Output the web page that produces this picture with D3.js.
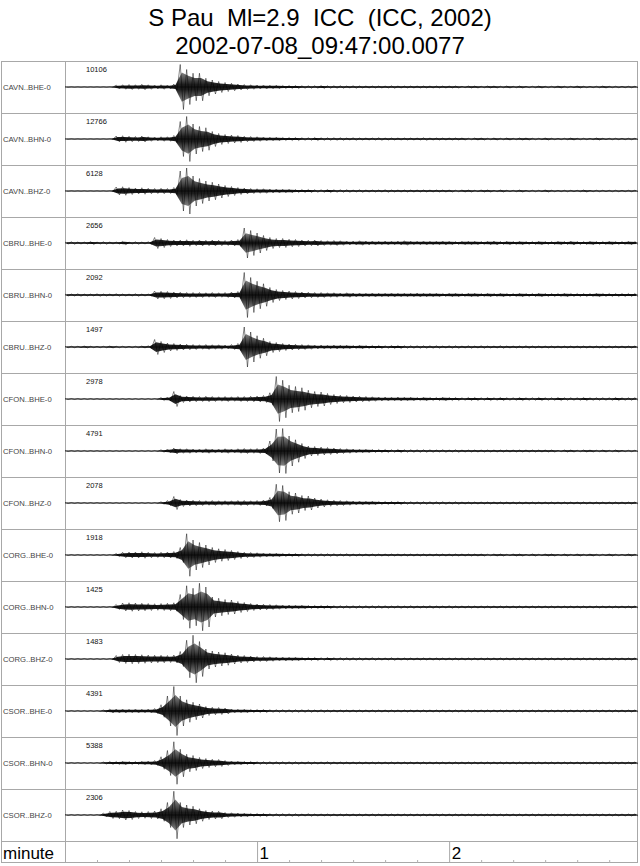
<!DOCTYPE html>
<html><head><meta charset="utf-8">
<script src="https://cdn.jsdelivr.net/npm/d3@7"></script>
<style>body{margin:0;background:#fff}svg{display:block}text{font-family:"Liberation Sans",Arial,Helvetica,sans-serif}</style>
</head><body><svg id="chart" width="640" height="866"></svg>
<script>
// ---------- data ----------
const titleLines = ["S Pau  Ml=2.9  ICC  (ICC, 2002)", "2002-07-08_09:47:00.0077"];
const channels = ["CAVN..BHE-0","CAVN..BHN-0","CAVN..BHZ-0","CBRU..BHE-0","CBRU..BHN-0","CBRU..BHZ-0",
  "CFON..BHE-0","CFON..BHN-0","CFON..BHZ-0","CORG..BHE-0","CORG..BHN-0","CORG..BHZ-0",
  "CSOR..BHE-0","CSOR..BHN-0","CSOR..BHZ-0"];
const peakCounts = [10106,12766,6128,2656,2092,1497,2978,4791,2078,1918,1425,1483,4391,5388,2306];
const sampleStepSec = 2;          // envelope read every 2 s, % of each trace's peak count
const minuteTicks = [1, 2];
const minorTickSec = [10,20,30,40,50,70,80,90,100,110,130,140,150,160,170];

const CAVN_BHE = [1,1,1,1,1,1,1,1, 8,9,10,9,11,9,8,9,8,12, 90,70,55,55,35,28,22,18,15,12, 10,9,8,8,7,7,6,6,6,5, 5,5,6,5,5,5,4,5,4,4, 4,4,4,5,4,4,4,4,4,4, 4,4,4,4,3,4,4,3,4,4, 3,4,3,4,3,3,4,3,3,4, 3,3,4,3,3,3,4,3,3,3,3,3];
const CAVN_BHN = [1,1,1,1,1,1,1,1, 12,13,11,10,12,9,8,9,9,14, 70,90,60,50,45,30,22,18,16,14, 11,10,9,8,7,7,6,6,6,5, 5,6,5,5,5,5,4,5,4,4, 4,5,4,4,4,4,4,4,5,4, 4,4,4,4,4,3,4,4,3,4, 3,4,3,4,4,3,3,4,3,3, 3,4,3,3,3,4,3,3,3,3,3,3];
const CAVN_BHZ = [1,1,1,1,1,1,1,1, 16,17,14,12,13,11,10,11,10,14, 80,92,60,50,40,35,28,22,18,14, 12,10,9,9,8,8,7,7,6,6, 6,5,5,6,5,5,5,4,5,4, 4,4,5,4,4,4,4,4,4,4, 4,4,4,3,4,4,3,4,4,3, 4,3,3,4,3,3,3,4,3,3, 3,3,3,4,3,3,3,3,3,3,3,3];
const CBRU_BHE = [4,5,4,4,6,4,5,4,4,7,4,5,4,5, 22,18,14,12,12,13,11,12,11,12, 11,10,12,14,60,50,40,30,22,18, 18,15,14,12,11,12,10,9,10,9, 8,8,9,8,8,7,8,7,8,9, 7,7,8,7,7,8,7,6,7,7, 7,6,7,8,6,7,6,7,6,6, 7,6,6,7,6,8,6,6,7,6, 6,7,6,6,7,6];
const CBRU_BHN = [4,4,5,4,4,5,4,4,5,4,4,5,4,4, 16,15,14,12,11,10,10,10,9,10, 9,10,12,14,90,70,55,45,30,22, 18,16,14,12,11,10,10,9,9,8, 9,8,8,7,8,7,7,8,7,7, 7,8,7,7,7,6,7,7,6,7, 7,6,7,6,7,6,6,7,6,6, 7,6,6,6,7,6,6,6,6,7, 6,6,6,6,6,6];
const CBRU_BHZ = [3,3,3,4,3,3,3,4,3,3,3,3,4,5, 30,22,16,14,12,11,10,9,10,9, 9,8,10,14,80,60,45,35,22,18, 14,12,11,10,9,8,8,7,8,7, 7,6,7,6,6,6,5,6,6,5, 5,5,5,5,5,4,5,5,4,5, 4,5,4,4,5,4,4,4,5,4, 4,4,4,4,4,4,4,4,4,4, 4,4,4,4,4,4];
const CFON_BHE = [2,2,2,2,2,2,2,2,2,2,2,2,2,2,2, 6,8,30,14,12,11,10,11,10,9, 10,9,10,10,11,12,14,25,90,75, 55,50,45,35,30,28,22,18,15,14, 12,11,10,9,8,8,7,8,7,7, 6,7,6,6,7,6,6,5,6,6, 5,6,5,6,5,5,6,5,5,6, 5,5,6,5,5,5,6,5,5,5, 5,6,5,5,5];
const CFON_BHN = [2,2,2,2,2,2,2,2,2,2,2,2,2,2,2, 5,8,12,9,9,8,8,9,8,8, 9,8,9,10,9,10,12,40,88,90, 60,45,30,20,18,16,14,12,10,9, 8,7,7,6,6,6,5,6,5,5, 5,5,5,4,5,4,5,4,4,4, 4,4,4,4,4,4,4,4,4,4, 4,4,3,4,4,3,4,4,3,4, 3,4,3,3,3];
const CFON_BHZ = [2,2,2,2,2,2,2,2,2,2,2,2,2,2,2, 5,10,26,14,12,11,10,9,10,9, 9,9,10,10,9,10,12,22,75,70, 45,40,30,28,20,16,13,11,10,9, 8,8,7,7,6,6,6,6,5,5, 5,5,5,5,5,4,5,4,4,4, 4,4,4,4,4,4,4,4,4,4, 4,4,4,4,4,4,4,4,4,4, 4,4,4,4,4];
const CORG_BHE = [2,2,2,2,2,2,2,2, 6,11,12,12,13,11,10,11,12,14, 30,85,60,50,40,30,25,22,18,14, 11,10,9,8,7,7,6,6,6,5, 5,5,5,5,5,4,5,4,4,4, 4,4,4,4,4,4,4,4,4,4, 4,4,4,4,4,4,4,4,3,4, 4,3,4,4,3,4,3,4,4,3, 4,3,4,3,4,3,3,4,3,3,4,3];
const CORG_BHN = [2,2,2,2,2,2,2,2, 10,16,17,16,15,14,13,14,15,17, 50,85,75,95,80,40,35,30,28,22, 18,14,12,11,10,9,8,8,7,7, 6,6,6,6,5,5,5,5,5,5, 5,5,5,4,5,4,5,4,4,5, 4,4,5,4,4,4,4,4,4,4, 4,4,4,4,4,4,4,4,4,4, 4,4,4,4,4,4,4,4,4,4,4,4];
const CORG_BHZ = [2,2,2,2,2,2,2,2, 14,18,19,18,17,16,15,15,14,16, 30,75,95,70,40,32,28,25,20,16, 14,12,10,10,9,8,8,7,7,6, 6,6,5,6,5,5,5,5,5,4, 5,4,4,5,4,4,4,4,4,4, 4,4,4,4,4,4,4,4,4,4, 4,4,4,4,4,4,4,4,4,4, 4,4,4,4,4,4,4,4,4,4,4,4];
const CSOR_BHE = [2,2,2,2,2,2, 4,8,8,8,7,8,7,8,10,25, 60,98,60,45,35,28,18,15,14,12, 8,7,7,6,6,6,5,5,5,5, 5,5,5,4,5,4,4,4,4,4, 4,4,4,4,4,4,4,4,4,4, 4,4,4,4,4,4,4,4,4,4, 4,4,4,4,4,4,4,4,4,4, 4,4,4,4,4,4,4,4,4,4,4,4,4,4];
const CSOR_BHN = [2,2,2,2,2,2, 4,6,6,7,6,6,7,8,10,25, 50,85,55,35,30,22,18,15,14,10, 8,7,6,6,5,5,5,5,5,5, 5,4,5,4,4,5,4,4,4,4, 4,4,4,4,4,4,4,4,4,4, 4,4,4,4,4,4,4,4,4,4, 4,4,4,4,4,4,4,4,4,4, 4,4,4,4,4,4,4,4,4,4,4,4,4,4];
const CSOR_BHZ = [2,2,2,2,2,2, 8,14,15,20,18,14,13,14,16,25, 50,95,50,40,35,25,18,16,15,10, 9,8,7,6,6,6,5,5,5,5, 5,4,5,4,4,4,4,4,4,4, 4,4,4,4,4,4,4,4,4,4, 4,4,4,4,4,4,4,4,4,4, 4,4,4,4,4,4,4,4,4,4, 4,4,4,4,4,4,4,4,4,4,4,4,4,4];
const traces = [CAVN_BHE,CAVN_BHN,CAVN_BHZ,CBRU_BHE,CBRU_BHN,CBRU_BHZ,CFON_BHE,CFON_BHN,CFON_BHZ,
  CORG_BHE,CORG_BHN,CORG_BHZ,CSOR_BHE,CSOR_BHN,CSOR_BHZ];

// ---------- drawing ----------
(function(){
const svg = d3.select("#chart");
const leftX = 1, rightX = 638, plotL = 65, topY = 61, rowsBottom = 841, bottomY = 863;
const frameCol = "#a8a8a8";
const coreShare = 0.65;   // dense dark core drawn inside the oscillation envelope

svg.selectAll("text.title").data(titleLines).join("text")
  .attr("class","title").attr("x",320).attr("y",(d,i)=>26+i*28)
  .attr("text-anchor","middle").attr("font-size",24).attr("fill","#000")
  .style("white-space","pre").attr("xml:space","preserve").text(d=>d);

const x = d3.scaleLinear().domain([0,179]).range([plotL,rightX]);
const y = d3.scaleBand().domain(channels).range([topY,rowsBottom]).padding(0);
const half = y.bandwidth()/2;
const amp = d3.scaleLinear().domain([-100,100]).range([half-1,-(half-1)]);

const defs = svg.append("defs");
const grad = defs.append("linearGradient").attr("id","dens").attr("x1",0).attr("x2",0).attr("y1",0).attr("y2",1);
[[0,"#777"],[0.28,"#2e2e2e"],[0.42,"#050505"],[0.5,"#000"],[0.58,"#050505"],[0.72,"#2e2e2e"],[1,"#777"]]
  .forEach(([o,c])=>grad.append("stop").attr("offset",o).attr("stop-color",c));

const g = svg.append("g");
g.append("rect").attr("x",leftX+0.5).attr("y",topY+0.5).attr("width",rightX-leftX-1).attr("height",bottomY-topY-1)
  .attr("fill","none").attr("stroke",frameCol);
g.append("line").attr("x1",plotL+0.5).attr("x2",plotL+0.5).attr("y1",topY).attr("y2",bottomY).attr("stroke",frameCol);
g.selectAll("line.sep").data(channels.slice(1).concat(["axis"])).join("line").attr("class","sep")
  .attr("x1",leftX).attr("x2",rightX)
  .attr("y1",(d,i)=>Math.round(topY+(i+1)*y.bandwidth())+0.5)
  .attr("y2",(d,i)=>Math.round(topY+(i+1)*y.bandwidth())+0.5)
  .attr("stroke",frameCol);

svg.selectAll("text.ch").data(channels).join("text").attr("class","ch")
  .attr("x",3).attr("y",d=>y(d)+half+3).attr("font-size",7.7).attr("fill","#444").text(d=>d);
svg.selectAll("text.pk").data(peakCounts).join("text").attr("class","pk")
  .attr("x",86).attr("y",(d,i)=>y(channels[i])+11).attr("font-size",7.5).attr("fill","#111").text(d=>d);

const line = d3.line().x(d=>x(d.t)).y(d=>amp(d.a));
const area = d3.area().x(d=>x(d.t)).y0(d=>amp(-d.a*coreShare)).y1(d=>amp(d.a*coreShare));
const tg = svg.append("g");
traces.forEach((tr,i)=>{
  const row = tg.append("g").attr("transform",`translate(0,${y(channels[i])+half})`);
  const env = tr.map((v,k)=>({t:k*sampleStepSec+sampleStepSec/4, a:v}));
  row.append("line").attr("x1",x(0)).attr("x2",x(179)).attr("y1",0).attr("y2",0)
    .attr("stroke","#000").attr("stroke-width",0.6);
  row.append("path").attr("d",area(env)).attr("fill","url(#dens)").attr("fill-opacity",0.9);
  const pts = [];
  tr.forEach((v,k)=>{ pts.push({t:k*sampleStepSec,a:v}); pts.push({t:k*sampleStepSec+sampleStepSec/2,a:-v}); });
  row.append("path").attr("d",line(pts)).attr("fill","none").attr("stroke","#000")
    .attr("stroke-width",0.6).attr("stroke-opacity",0.8);
});

const minorAxis = d3.axisTop(x).tickValues(minorTickSec).tickSize(3).tickFormat("");
const ma = svg.append("g").attr("transform",`translate(0,${bottomY})`).call(minorAxis);
ma.select(".domain").remove();
ma.selectAll("line").attr("stroke","#b0b0b0");
const majorAxis = d3.axisTop(x).tickValues(minuteTicks.map(m=>m*60)).tickSize(bottomY-rowsBottom).tickFormat(d=>d/60);
const mj = svg.append("g").attr("transform",`translate(0,${bottomY})`).call(majorAxis);
mj.select(".domain").remove();
mj.selectAll("line").attr("stroke","#a8a8a8");
mj.selectAll("text").attr("x",2).attr("y",-4).attr("text-anchor","start").attr("font-size",17)
  .attr("fill","#000").attr("font-family","'Liberation Sans',Arial,sans-serif");
svg.append("text").attr("x",3).attr("y",bottomY-4).attr("font-size",17).attr("fill","#000").text("minute");
})();
</script></body></html>
